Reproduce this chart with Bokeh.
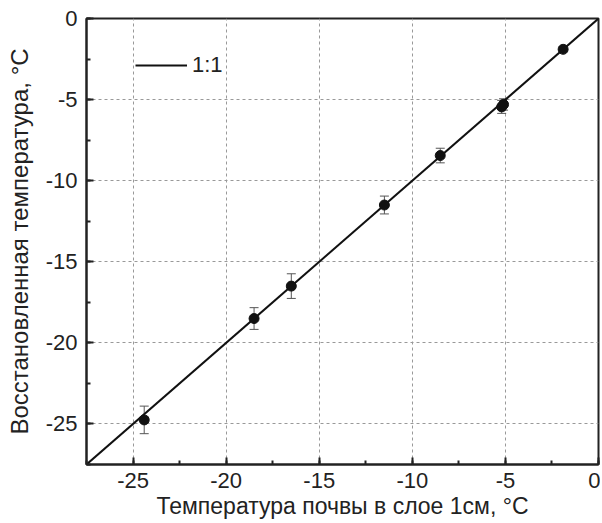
from bokeh.plotting import figure
from bokeh.models import (ColumnDataSource, Whisker, SingleIntervalTicker, Range1d,
                          Legend, LegendItem, TeeHead, CustomJSTickFormatter)
from bokeh.embed import file_html
from bokeh.resources import INLINE

# data
soil_temp = [-24.4, -18.5, -16.5, -11.5, -8.5, -5.2, -5.1, -1.9]
restored_temp = [-24.75, -18.5, -16.5, -11.5, -8.45, -5.45, -5.3, -1.9]
restored_err = [0.85, 0.67, 0.76, 0.55, 0.45, 0.4, 0.35, 0.15]
one_to_one = [-27.5, 0.0]
x_range = (-27.5, 0.0)
y_range = (-27.5, 0.0)

FONT = "Liberation Sans"

p = figure(width=600, height=521, output_backend="svg", toolbar_location=None,
           x_range=Range1d(*x_range), y_range=Range1d(*y_range),
           min_border_left=86, min_border_top=18, min_border_right=2, min_border_bottom=57)
p.background_fill_color = "white"
p.border_fill_color = "white"
p.outline_line_color = "#222222"
p.outline_line_width = 2

for ax in (p.xaxis, p.yaxis):
    ax.ticker = SingleIntervalTicker(interval=5, num_minor_ticks=2)
    ax.formatter = CustomJSTickFormatter(code="return tick.toString();")
    ax.major_tick_in = 7
    ax.major_tick_out = 0
    ax.minor_tick_in = 4
    ax.minor_tick_out = 0
    ax.axis_line_width = 2
    ax.axis_line_color = "#222222"
    ax.major_tick_line_width = 2
    ax.minor_tick_line_width = 2
    ax.major_tick_line_color = "#222222"
    ax.minor_tick_line_color = "#222222"
    ax.major_label_text_font = FONT
    ax.major_label_text_font_size = "22px"
    ax.major_label_text_color = "#222222"
    ax.axis_label_text_font = FONT
    ax.axis_label_text_font_style = "normal"
    ax.axis_label_text_color = "#222222"

p.xaxis.axis_label_text_font_size = "23px"
p.yaxis.axis_label_text_font_size = "24px"
p.xaxis.major_label_standoff = 8
p.yaxis.major_label_standoff = 9
p.xaxis.axis_label = "Температура почвы в слое 1см, °C"
p.yaxis.axis_label = "Восстановленная температура, °C"
p.xaxis.axis_label_standoff = 2
p.yaxis.axis_label_standoff = 10

for g in (p.xgrid, p.ygrid):
    g.grid_line_color = "#999999"
    g.grid_line_dash = "3 3"
    g.grid_line_width = 1

line = p.line(one_to_one, one_to_one, line_color="#111111", line_width=2)

src = ColumnDataSource(dict(
    x=soil_temp, y=restored_temp,
    lo=[v - e for v, e in zip(restored_temp, restored_err)],
    hi=[v + e for v, e in zip(restored_temp, restored_err)],
))
w = Whisker(source=src, base="x", lower="lo", upper="hi", line_color="#555555", line_width=1,
            upper_head=TeeHead(size=9, line_color="#555555", line_width=1),
            lower_head=TeeHead(size=9, line_color="#555555", line_width=1))
p.add_layout(w)
p.scatter("x", "y", source=src, size=10, fill_color="#111111", line_color="#111111")

legend = Legend(items=[LegendItem(label="1:1", renderers=[line])],
                location=(49, 386), padding=0, margin=0, spacing=0,
                glyph_width=52, glyph_height=20, label_height=20, label_standoff=5,
                label_text_font=FONT, label_text_font_size="22px", label_text_color="#222222",
                background_fill_alpha=0, border_line_color=None)
p.add_layout(legend)

open("out.html", "w").write(file_html(p, INLINE))
